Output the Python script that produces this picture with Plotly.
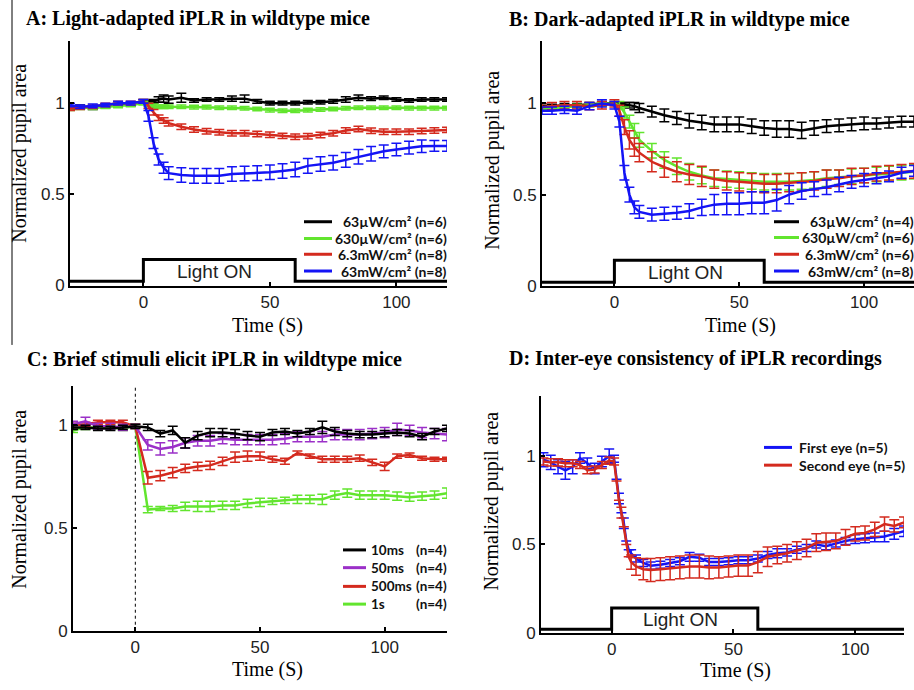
import plotly.graph_objects as go

# ---------------- data ----------------
# Panel A: light-adapted
A_t = [-29, -25, -20, -15, -10, -5, 0, 2, 4, 6, 8, 10, 15, 20, 25, 30, 35, 40, 45, 50,
       55, 60, 65, 70, 75, 80, 85, 90, 95, 100, 105, 110, 115, 120]
A_black = [0.975, 0.98, 0.975, 0.985, 0.99, 0.995, 1.01, 1.005, 1.01, 1.02, 1.025, 1.02, 1.03, 1.015,
           1.02, 1.02, 1.025, 1.025, 1.01, 1.0, 1.0, 1.0, 1.005, 1.005, 1.01, 1.02, 1.03, 1.025,
           1.03, 1.02, 1.015, 1.02, 1.02, 1.02]
A_black_err = [0.01, 0.01, 0.01, 0.01, 0.01, 0.01, 0.01, 0.01, 0.01, 0.015, 0.02, 0.02, 0.025, 0.01,
               0.01, 0.01, 0.015, 0.02, 0.01, 0.01, 0.01, 0.01, 0.01, 0.01, 0.01, 0.015, 0.015, 0.01,
               0.01, 0.01, 0.01, 0.01, 0.01, 0.01]
A_green = [0.97, 0.975, 0.975, 0.98, 0.985, 0.99, 1.0, 0.99, 0.985, 0.98, 0.98, 0.98, 0.98, 0.978,
           0.978, 0.975, 0.975, 0.972, 0.968, 0.962, 0.958, 0.958, 0.962, 0.965, 0.968, 0.972, 0.975,
           0.975, 0.975, 0.975, 0.973, 0.973, 0.973, 0.973]
A_green_err = [0.01] * 34
A_red = [0.97, 0.975, 0.98, 0.99, 1.0, 1.0, 1.01, 0.985, 0.95, 0.92, 0.905, 0.89, 0.87, 0.855, 0.845,
         0.84, 0.835, 0.835, 0.83, 0.826, 0.82, 0.815, 0.818, 0.825, 0.835, 0.85, 0.858, 0.848, 0.843,
         0.843, 0.843, 0.847, 0.85, 0.853]
A_red_err = [0.01, 0.01, 0.01, 0.01, 0.01, 0.01, 0.01, 0.015, 0.015, 0.015, 0.015, 0.015, 0.015, 0.015,
             0.015, 0.015, 0.015, 0.015, 0.015, 0.015, 0.015, 0.015, 0.015, 0.015, 0.015, 0.015, 0.015,
             0.015, 0.015, 0.015, 0.015, 0.015, 0.015, 0.015]
A_blue = [0.99, 0.98, 0.985, 0.99, 1.0, 1.0, 1.01, 0.93, 0.78, 0.69, 0.645, 0.615, 0.605, 0.6, 0.6,
          0.6, 0.61, 0.613, 0.615, 0.62, 0.627, 0.635, 0.655, 0.665, 0.672, 0.688, 0.705, 0.722,
          0.735, 0.745, 0.755, 0.763, 0.765, 0.765]
A_blue_err = [0.01, 0.01, 0.01, 0.01, 0.01, 0.01, 0.01, 0.03, 0.03, 0.03, 0.03, 0.035, 0.04, 0.04, 0.04,
              0.04, 0.04, 0.04, 0.04, 0.04, 0.04, 0.04, 0.04, 0.04, 0.04, 0.04, 0.04, 0.04, 0.035,
              0.035, 0.035, 0.035, 0.03, 0.03]

# Panel B: dark-adapted
B_t = A_t
B_black = [0.98, 0.985, 0.99, 0.99, 0.995, 1.0, 1.0, 1.0, 0.995, 0.99, 0.985, 0.975, 0.955, 0.935, 0.92,
           0.905, 0.895, 0.885, 0.885, 0.885, 0.875, 0.865, 0.86, 0.86, 0.852, 0.865, 0.875, 0.88,
           0.885, 0.89, 0.89, 0.895, 0.9, 0.9]
B_black_err = [0.01, 0.01, 0.01, 0.01, 0.01, 0.01, 0.005, 0.005, 0.01, 0.015, 0.02, 0.025, 0.03, 0.035,
               0.035, 0.04, 0.04, 0.04, 0.04, 0.04, 0.04, 0.04, 0.045, 0.045, 0.045, 0.04, 0.035, 0.035,
               0.035, 0.035, 0.03, 0.03, 0.03, 0.03]
B_green = [0.97, 0.975, 0.98, 0.985, 0.99, 0.995, 1.0, 0.99, 0.95, 0.9, 0.85, 0.8, 0.74, 0.69, 0.655,
           0.625, 0.605, 0.59, 0.585, 0.58, 0.575, 0.57, 0.57, 0.57, 0.575, 0.58, 0.59, 0.595, 0.6,
           0.605, 0.61, 0.615, 0.62, 0.625]
B_green_err = [0.01, 0.01, 0.01, 0.01, 0.01, 0.01, 0.01, 0.02, 0.03, 0.035, 0.04, 0.04, 0.04, 0.045, 0.045,
               0.045, 0.045, 0.045, 0.045, 0.045, 0.045, 0.045, 0.045, 0.045, 0.045, 0.045, 0.045,
               0.04, 0.04, 0.04, 0.04, 0.04, 0.04, 0.04]
B_red = [0.98, 0.985, 0.99, 0.99, 0.985, 0.99, 1.0, 0.96, 0.87, 0.8, 0.76, 0.73, 0.68, 0.65, 0.625, 0.61,
         0.6, 0.585, 0.575, 0.57, 0.565, 0.56, 0.56, 0.565, 0.57, 0.575, 0.585, 0.59, 0.6, 0.605,
         0.615, 0.62, 0.625, 0.63]
B_red_err = [0.02, 0.02, 0.02, 0.02, 0.02, 0.02, 0.02, 0.03, 0.04, 0.05, 0.05, 0.05, 0.055, 0.055, 0.055,
             0.055, 0.055, 0.05, 0.05, 0.05, 0.05, 0.05, 0.05, 0.05, 0.05, 0.05, 0.05, 0.045, 0.045,
             0.04, 0.04, 0.04, 0.04, 0.04]
B_blue = [0.96, 0.96, 0.965, 0.96, 0.985, 1.0, 0.99, 0.9, 0.62, 0.5, 0.43, 0.405, 0.39, 0.395, 0.4, 0.41,
          0.43, 0.445, 0.45, 0.45, 0.455, 0.455, 0.47, 0.5, 0.52, 0.53, 0.54, 0.555, 0.57, 0.58, 0.59,
          0.6, 0.62, 0.63]
B_blue_err = [0.02, 0.02, 0.02, 0.02, 0.02, 0.02, 0.02, 0.03, 0.04, 0.04, 0.035, 0.035, 0.035, 0.035,
              0.035, 0.04, 0.045, 0.055, 0.06, 0.06, 0.06, 0.06, 0.06, 0.05, 0.045, 0.04, 0.04, 0.04,
              0.035, 0.035, 0.03, 0.03, 0.03, 0.03]

# Panel C: brief stimuli
C_t = [-25, -20, -15, -10, -5, 0, 5, 10, 15, 20, 25, 30, 35, 40, 45, 50, 55, 60, 65, 70, 75, 80,
       85, 90, 95, 100, 105, 110, 115, 120, 125]
C_black = [0.99, 0.99, 0.985, 0.985, 0.99, 0.995, 0.99, 0.96, 0.975, 0.915, 0.95, 0.965, 0.965, 0.96,
           0.95, 0.945, 0.965, 0.97, 0.96, 0.97, 0.99, 0.97, 0.96, 0.955, 0.955, 0.96, 0.965, 0.96,
           0.945, 0.97, 0.985]
C_black_err = [0.01, 0.01, 0.01, 0.01, 0.01, 0.01, 0.015, 0.015, 0.02, 0.025, 0.02, 0.02, 0.02, 0.02, 0.02,
               0.02, 0.015, 0.015, 0.015, 0.015, 0.03, 0.02, 0.015, 0.015, 0.015, 0.015, 0.015, 0.015,
               0.015, 0.015, 0.015]
C_purple = [1.005, 1.02, 0.995, 0.995, 0.99, 0.995, 0.905, 0.885, 0.895, 0.915, 0.925, 0.925, 0.935,
            0.93, 0.93, 0.93, 0.93, 0.935, 0.945, 0.945, 0.945, 0.955, 0.955, 0.955, 0.96, 0.965, 0.98,
            0.975, 0.965, 0.96, 0.955]
C_purple_err = [0.015, 0.02, 0.015, 0.015, 0.015, 0.01, 0.025, 0.03, 0.03, 0.025, 0.025, 0.025, 0.025,
                0.025, 0.025, 0.025, 0.025, 0.025, 0.025, 0.025, 0.025, 0.025, 0.025, 0.025, 0.025,
                0.025, 0.03, 0.025, 0.025, 0.025, 0.03]
C_red = [1.0, 1.005, 1.015, 1.015, 1.015, 0.995, 0.745, 0.755, 0.77, 0.79, 0.80, 0.805, 0.825, 0.845,
         0.85, 0.85, 0.835, 0.825, 0.865, 0.85, 0.835, 0.835, 0.835, 0.84, 0.82, 0.80, 0.85, 0.855,
         0.84, 0.835, 0.835]
C_red_err = [0.01, 0.01, 0.01, 0.01, 0.01, 0.01, 0.03, 0.025, 0.025, 0.02, 0.02, 0.02, 0.02, 0.025,
             0.025, 0.02, 0.015, 0.015, 0.01, 0.01, 0.015, 0.015, 0.015, 0.015, 0.015, 0.02, 0.01,
             0.01, 0.01, 0.01, 0.01]
C_green = [0.975, 0.99, 0.99, 0.99, 0.985, 0.995, 0.59, 0.595, 0.595, 0.605, 0.605, 0.605, 0.61, 0.61,
           0.62, 0.625, 0.63, 0.635, 0.64, 0.64, 0.64, 0.66, 0.67, 0.66, 0.66, 0.66, 0.655, 0.65,
           0.655, 0.66, 0.67]
C_green_err = [0.01, 0.01, 0.01, 0.01, 0.01, 0.01, 0.015, 0.01, 0.015, 0.02, 0.025, 0.025, 0.02, 0.02,
               0.02, 0.02, 0.015, 0.015, 0.02, 0.02, 0.025, 0.02, 0.02, 0.02, 0.02, 0.02, 0.02, 0.02,
               0.02, 0.02, 0.025]

# Panel D: inter-eye consistency
D_t = [-28, -25, -22, -19, -16, -13, -10, -7, -4, -1, 1, 2, 3, 4, 5, 6, 7, 8, 10, 13, 16, 20, 24, 28,
       32, 36, 40, 44, 48, 52, 56, 60, 64, 68, 72, 76, 80, 84, 88, 92, 96, 100, 104, 108, 112, 116, 120]
D_first = [0.98, 0.965, 0.94, 0.92, 0.94, 0.99, 0.96, 0.93, 0.97, 1.0, 0.985, 0.87, 0.76, 0.68, 0.62,
           0.52, 0.47, 0.45, 0.42, 0.395, 0.38, 0.385, 0.395, 0.405, 0.43, 0.425, 0.40, 0.40, 0.405,
           0.41, 0.41, 0.42, 0.44, 0.45, 0.455, 0.47, 0.48, 0.50, 0.49, 0.505, 0.52, 0.53, 0.535,
           0.54, 0.545, 0.56, 0.575]
D_first_err = [0.04, 0.04, 0.04, 0.05, 0.04, 0.03, 0.03, 0.03, 0.03, 0.04, 0.02, 0.0, 0.03, 0.0, 0.03,
               0.0, 0.0, 0.02, 0.02, 0.02, 0.02, 0.02, 0.02, 0.02, 0.025, 0.02, 0.02, 0.02, 0.02, 0.02,
               0.02, 0.02, 0.02, 0.025, 0.02, 0.02, 0.02, 0.02, 0.02, 0.02, 0.02, 0.025, 0.025, 0.025,
               0.03, 0.03, 0.03]
D_second = [0.97, 0.965, 0.965, 0.96, 0.96, 0.95, 0.92, 0.925, 0.95, 0.975, 0.97, 0.86, 0.75, 0.68, 0.6,
            0.5, 0.43, 0.40, 0.375, 0.36, 0.355, 0.36, 0.365, 0.37, 0.375, 0.375, 0.37, 0.37, 0.375,
            0.38, 0.38, 0.40, 0.43, 0.44, 0.45, 0.465, 0.48, 0.51, 0.515, 0.52, 0.54, 0.56, 0.565,
            0.585, 0.615, 0.605, 0.625]
D_second_err = [0.02, 0.02, 0.02, 0.02, 0.02, 0.02, 0.02, 0.02, 0.02, 0.02, 0.02, 0.0, 0.0, 0.03, 0.0,
                0.0, 0.0, 0.04, 0.05, 0.06, 0.065, 0.065, 0.065, 0.065, 0.065, 0.065, 0.065, 0.06, 0.06,
                0.06, 0.06, 0.06, 0.055, 0.05, 0.05, 0.05, 0.05, 0.05, 0.05, 0.045, 0.045, 0.04, 0.04,
                0.04, 0.04, 0.035, 0.03]

# light stimulus traces and onset marker
stim_t = [-30, 0, 0, 60, 60, 120]
stim_v = [0.02, 0.02, 0.14, 0.14, 0.02, 0.02]
onset_t = [0, 0]
onset_v = [0, 1.2]

labels_A = ["63\u00b5W/cm\u00b2 (n=6)", "630\u00b5W/cm\u00b2 (n=6)", "6.3mW/cm\u00b2 (n=8)", "63mW/cm\u00b2 (n=8)"]
labels_B = ["63\u00b5W/cm\u00b2 (n=4)", "630\u00b5W/cm\u00b2 (n=6)", "6.3mW/cm\u00b2 (n=6)", "63mW/cm\u00b2 (n=8)"]
labels_C = ["10ms", "50ms", "500ms", "1s"]
counts_C = ["(n=4)", "(n=4)", "(n=4)", "(n=4)"]
labels_D = ["First eye (n=5)", "Second eye (n=5)"]

# ---------------- style ----------------
BLACK = "#000000"
GREEN = "#62e52e"
RED = "#d42a1e"
BLUE = "#1414f5"
PURPLE = "#9b30c8"

W, H = 914, 690

fig = go.Figure()


def add_series(x, y, err, color, name, xa, ya):
    fig.add_trace(go.Scatter(
        x=x, y=y, mode="lines", name=name,
        line=dict(color=color, width=2.5),
        error_y=dict(type="data", array=err, visible=True, color=color, thickness=1.5, width=5),
        xaxis=xa, yaxis=ya, showlegend=False,
    ))


def add_stim(xa, ya):
    fig.add_trace(go.Scatter(x=stim_t, y=stim_v, mode="lines", line=dict(color=BLACK, width=3),
                             xaxis=xa, yaxis=ya, showlegend=False, hoverinfo="skip"))


# Panel A
add_stim("x", "y")
add_series(A_t, A_black, A_black_err, BLACK, labels_A[0], "x", "y")
add_series(A_t, A_green, A_green_err, GREEN, labels_A[1], "x", "y")
add_series(A_t, A_red, A_red_err, RED, labels_A[2], "x", "y")
add_series(A_t, A_blue, A_blue_err, BLUE, labels_A[3], "x", "y")

# Panel B
add_stim("x2", "y2")
add_series(B_t, B_black, B_black_err, BLACK, labels_B[0], "x2", "y2")
add_series(B_t, B_green, B_green_err, GREEN, labels_B[1], "x2", "y2")
add_series(B_t, B_red, B_red_err, RED, labels_B[2], "x2", "y2")
add_series(B_t, B_blue, B_blue_err, BLUE, labels_B[3], "x2", "y2")

# Panel C
fig.add_trace(go.Scatter(x=onset_t, y=onset_v, mode="lines", line=dict(color=BLACK, width=1, dash="dot"),
                         xaxis="x3", yaxis="y3", showlegend=False, hoverinfo="skip"))
add_series(C_t, C_green, C_green_err, GREEN, labels_C[3], "x3", "y3")
add_series(C_t, C_red, C_red_err, RED, labels_C[2], "x3", "y3")
add_series(C_t, C_purple, C_purple_err, PURPLE, labels_C[1], "x3", "y3")
add_series(C_t, C_black, C_black_err, BLACK, labels_C[0], "x3", "y3")

# Panel D
add_stim("x4", "y4")
add_series(D_t, D_first, D_first_err, BLUE, labels_D[0], "x4", "y4")
add_series(D_t, D_second, D_second_err, RED, labels_D[1], "x4", "y4")

TICKFONT = dict(family="Liberation Sans, Arial, sans-serif", size=17, color="#222")


def ax(domain, rng, anchor, tickvals):
    return dict(domain=domain, range=rng, anchor=anchor, showline=True, linecolor=BLACK, linewidth=2,
                ticks="inside", ticklen=4, tickwidth=1.5, tickcolor=BLACK, tickvals=tickvals,
                ticktext=[str(v) for v in tickvals], showgrid=False, zeroline=False, tickfont=TICKFONT,
                fixedrange=True)


def px(v):
    return v / W


def py(v):
    return 1 - v / H


fig.update_layout(
    width=W, height=H, margin=dict(l=0, r=0, t=0, b=0),
    paper_bgcolor="white", plot_bgcolor="white", showlegend=False,
    xaxis=ax([px(70), px(447)], [-29, 120], "y", [0, 50, 100]),
    yaxis=ax([py(290), py(42)], [-0.005, 1.34], "x", [0, 0.5, 1]),
    xaxis2=ax([px(542), 1.0], [-29, 120], "y2", [0, 50, 100]),
    yaxis2=ax([py(290), py(42)], [0.0, 1.34], "x2", [0, 0.5, 1]),
    xaxis3=ax([px(73), px(447)], [-25, 125], "y3", [0, 50, 100]),
    yaxis3=ax([py(640), py(392)], [0, 1.19], "x3", [0, 0.5, 1]),
    xaxis4=ax([px(541), px(904)], [-29, 120], "y4", [0, 50, 100]),
    yaxis4=ax([py(642), py(402)], [0, 1.34], "x4", [0, 0.5, 1]),
)

TITLEFONT = dict(family="Liberation Serif, Times New Roman, serif", size=20, color=BLACK, weight="bold")
AXTFONT = dict(family="Liberation Serif, Times New Roman, serif", size=20, color=BLACK)
LIGHTFONT = dict(family="Liberation Sans, Arial, sans-serif", size=19, color="#222")
LEGFONT = dict(family="Lato, Open Sans, sans-serif", size=14, color="#111", weight="bold")
LEGFONT_C = dict(family="Lato, Open Sans, sans-serif", size=13.5, color="#111", weight="bold")

annotations = [
    dict(text="A: Light-adapted iPLR in wildtype mice", x=px(24), y=py(19), xanchor="left", yanchor="middle", font=TITLEFONT),
    dict(text="B: Dark-adapted iPLR in wildtype mice", x=px(507), y=py(20), xanchor="left", yanchor="middle", font=TITLEFONT),
    dict(text="C: Brief stimuli elicit iPLR in wildtype mice", x=px(25), y=py(365), xanchor="left", yanchor="middle", font=TITLEFONT),
    dict(text="D: Inter-eye consistency of iPLR recordings", x=px(507), y=py(364), xanchor="left", yanchor="middle", font=TITLEFONT),
    dict(text="Time (S)", x=px(267), y=py(330), xanchor="center", yanchor="middle", font=AXTFONT),
    dict(text="Time (S)", x=px(740), y=py(330), xanchor="center", yanchor="middle", font=AXTFONT),
    dict(text="Time (S)", x=px(267), y=py(679), xanchor="center", yanchor="middle", font=AXTFONT),
    dict(text="Time (S)", x=px(735), y=py(680), xanchor="center", yanchor="middle", font=AXTFONT),
    dict(text="Normalized pupil area", x=px(20), y=py(156), textangle=-90, xanchor="center", yanchor="middle", font=AXTFONT),
    dict(text="Normalized pupil area", x=px(493), y=py(162), textangle=-90, xanchor="center", yanchor="middle", font=AXTFONT),
    dict(text="Normalized pupil area", x=px(20), y=py(507), textangle=-90, xanchor="center", yanchor="middle", font=AXTFONT),
    dict(text="Normalized pupil area", x=px(492), y=py(509), textangle=-90, xanchor="center", yanchor="middle", font=AXTFONT),
]

shapes = []


def legend_block(labels, colors, rows_y, x0, x1, text_x, anchor, font):
    for lab, col, ry in zip(labels, colors, rows_y):
        shapes.append(dict(type="line", xref="paper", yref="paper", x0=px(x0), x1=px(x1), y0=py(ry), y1=py(ry),
                           line=dict(color=col, width=3)))
        annotations.append(dict(text=lab, x=px(text_x), y=py(ry), xanchor=anchor, yanchor="middle", font=font))


legend_block(labels_A, [BLACK, GREEN, RED, BLUE], [225, 242, 258, 275], 304, 332, 449, "right", LEGFONT)
legend_block(labels_B, [BLACK, GREEN, RED, BLUE], [225, 241, 258, 275], 774, 799, 916, "right", LEGFONT)
legend_block(labels_C, [BLACK, PURPLE, RED, GREEN], [558, 576, 595, 613], 343, 366, 369, "left", LEGFONT_C)
for lab, ry in zip(counts_C, [558, 576, 595, 613]):
    annotations.append(dict(text=lab, x=px(449), y=py(ry), xanchor="right", yanchor="middle", font=LEGFONT_C))
legend_block(labels_D, [BLUE, RED], [454, 472], 764, 792, 797, "left", LEGFONT)

for a in annotations:
    a.update(xref="paper", yref="paper", showarrow=False)

for xr, yr in [("x", "y"), ("x2", "y2"), ("x4", "y4")]:
    annotations.append(dict(text="Light ON", x=28.3, y=0.072, xref=xr, yref=yr, showarrow=False,
                            xanchor="center", yanchor="middle", font=LIGHTFONT))

shapes.append(dict(type="line", xref="paper", yref="paper", x0=px(12), x1=px(12), y0=1, y1=py(350),
                   line=dict(color=BLACK, width=1)))

fig.update_layout(annotations=annotations, shapes=shapes)

fig.write_html("out.html", config={"displayModeBar": False},
               post_script="document.body.style.margin='0';document.body.style.padding='0';")
